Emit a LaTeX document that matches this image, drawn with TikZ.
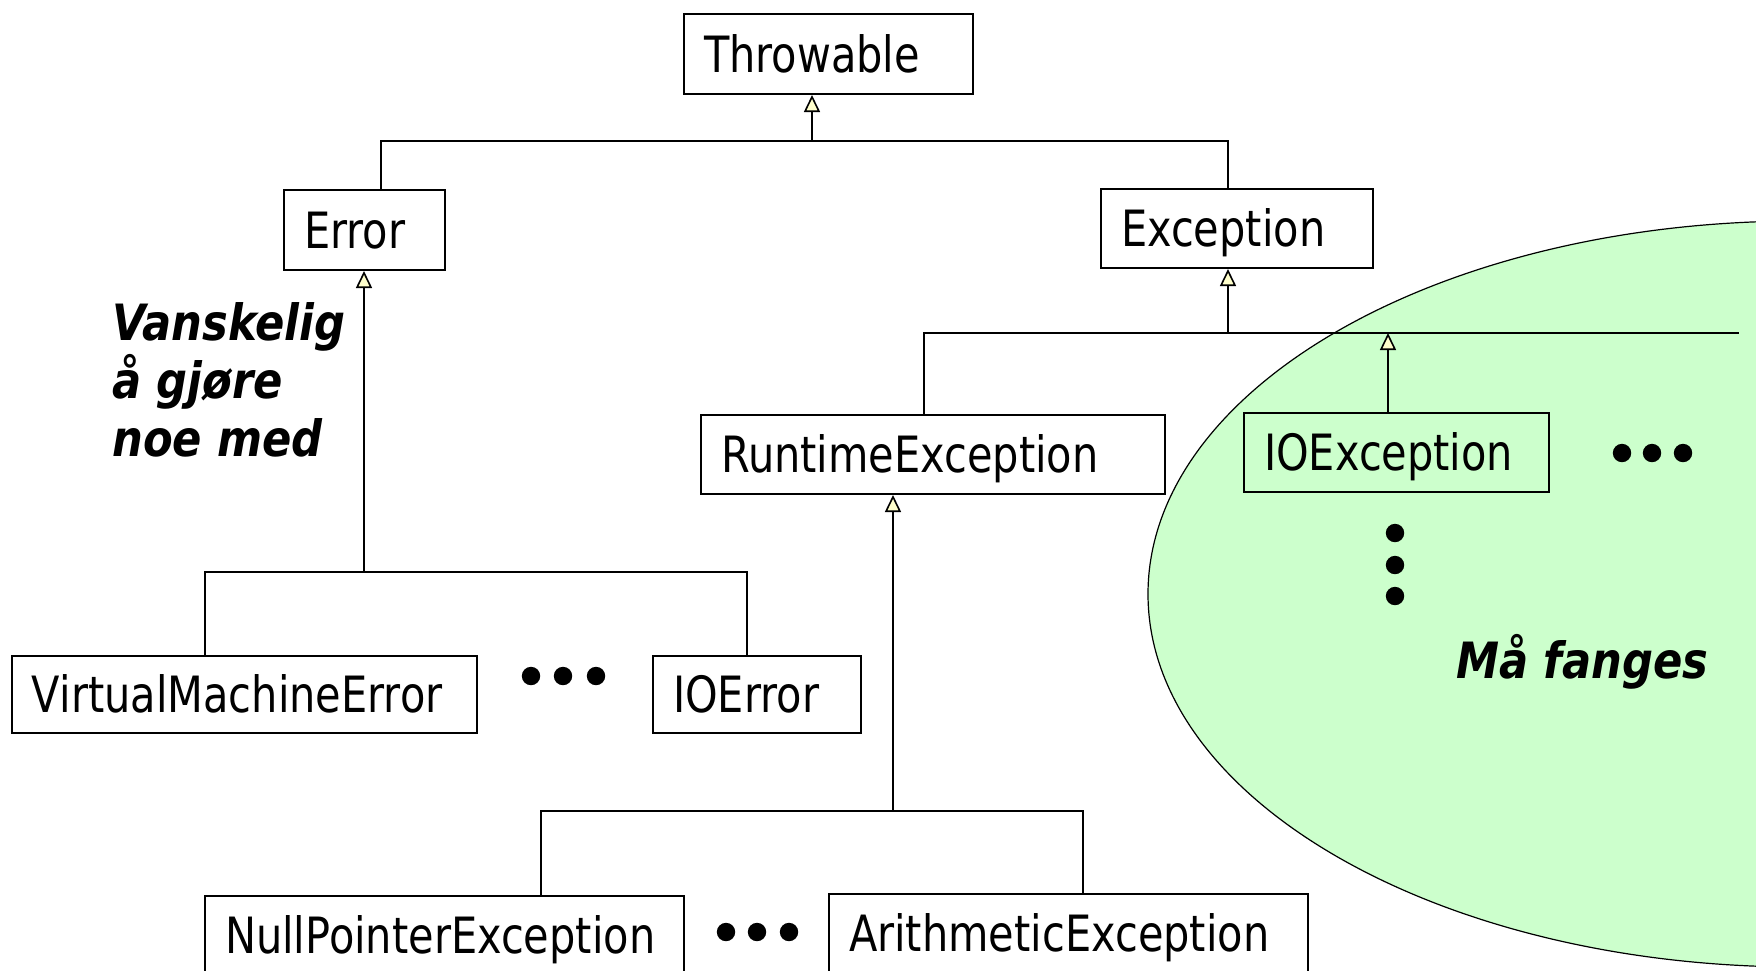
\documentclass[tikz,border=0pt]{standalone}
\usepackage{fontspec}
\setmainfont[FakeStretch=0.83,BoldItalicFeatures={FakeStretch=0.865}]{DejaVu Sans}
\usetikzlibrary{arrows.meta}
\definecolor{catchgreen}{HTML}{CCFFCC}
\definecolor{arrowfill}{HTML}{FFFFCC}
\begin{document}
\begin{tikzpicture}[x=0.5pt,y=-0.5pt,
  every node/.style={font=\fontsize{25pt}{29pt}\selectfont},
  classbox/.style 2 args={draw, line width=1pt, anchor=north west, rectangle,
    inner xsep=10pt, inner ysep=0pt, text height=18pt, text depth=0pt,
    align=left, text width=#1, minimum height=#2},
  note/.style={inner sep=0pt, align=left, font=\fontsize{25pt}{29pt}\selectfont\bfseries\itshape},
  conn/.style={line width=0.9pt},
  gen/.style={conn, -{Triangle[length=8.5pt,width=8pt,fill=arrowfill,line width=0.8pt]}},
  dot/.style={black}]
\clip (0,0) rectangle (1756,970);
\fill[white] (0,0) rectangle (1756,970);
% region of checked exceptions
\draw[fill=catchgreen, line width=0.6pt] (1800,594) ellipse[x radius=326pt, y radius=186.5pt];

% classes
\node[classbox={124.5pt}{40pt}] (thr) at (683,13) {Throwable};
\node[classbox={60.5pt}{40pt}] (err) at (283,189) {Error};
\node[classbox={116pt}{39.5pt}] (exc) at (1100,188) {Exception};
\node[classbox={212pt}{39.5pt}] (rte) at (700,414) {RuntimeException};
\node[classbox={132.5pt}{39.5pt}] (ioe) at (1243,412) {IOException};
\node[classbox={212.5pt}{38.5pt}] (vme) at (11,655) {VirtualMachineError};
\node[classbox={84pt}{38.5pt}] (ioerr) at (652,655) {IOError};
\node[classbox={219.5pt}{39pt}] (npe) at (204,895) {NullPointerException};
\node[classbox={219.5pt}{39pt}] (ari) at (828,893) {ArithmeticException};

% labels
\node[note, anchor=north west] (hard) at (112,302) {Vanskelig\\å gjøre\\noe med};
\node[note, anchor=base west] (must) at (1456,678) {Må fanges};

% Throwable hierarchy
\coordinate (tb) at (812,141);
\coordinate (tbL) at (381,141);
\coordinate (tbR) at (1228,141);
\draw[conn] (err.north -| tbL) -- (tbL) -- (tbR) -- (exc.north -| tbR);
\draw[gen] (tb) -- (tb |- thr.south);

% Error hierarchy
\coordinate (eb) at (364,572);
\coordinate (ebL) at (205,572);
\coordinate (ebR) at (747,572);
\draw[conn] (vme.north -| ebL) -- (ebL) -- (ebR) -- (ioerr.north -| ebR);
\draw[gen] (eb) -- (eb |- err.south);

% Exception hierarchy
\coordinate (xb) at (1228,333);
\coordinate (xbL) at (924,333);
\coordinate (xbR) at (1739,333);
\coordinate (xio) at (1388,333);
\draw[conn] (rte.north -| xbL) -- (xbL) -- (xbR);
\draw[gen] (xb) -- (xb |- exc.south);
\draw[gen] (ioe.north -| xio) -- (xio);

% RuntimeException hierarchy
\coordinate (rb) at (893,811);
\coordinate (rbL) at (541,811);
\coordinate (rbR) at (1083,811);
\draw[conn] (npe.north -| rbL) -- (rbL) -- (rbR) -- (ari.north -| rbR);
\draw[gen] (rb) -- (rb |- rte.south);

% ellipsis dots
\foreach \px in {531,563,596} \fill[dot] (\px,676) circle[radius=4.6pt];
\foreach \px in {726,757,789} \fill[dot] (\px,932) circle[radius=4.6pt];
\foreach \px in {1622,1652,1683} \fill[dot] (\px,453) circle[radius=4.6pt];
\foreach \py in {533,565,596} \fill[dot] (1395,\py) circle[radius=4.6pt];
\end{tikzpicture}
\end{document}
